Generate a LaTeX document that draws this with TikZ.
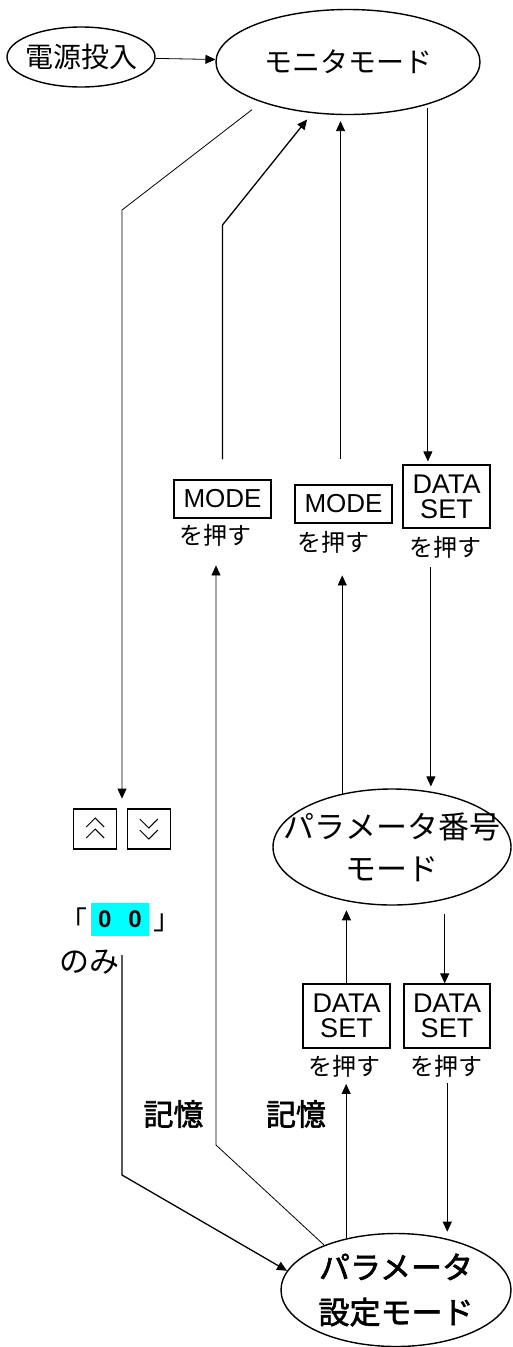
\documentclass[tikz,border=0pt]{standalone}
\usepackage{fontspec}
\setmainfont{Noto Sans CJK JP}
\newfontfamily\keyfont{Liberation Sans}
\newfontfamily\heavyfont[FakeBold=2]{Noto Sans CJK JP}
\usetikzlibrary{arrows.meta,shapes.geometric,calc}
\definecolor{hlcyan}{RGB}{0,255,255}

\tikzset{
  modeell/.style={ draw, ellipse, line width=1.4pt, inner xsep=-30pt, inner ysep=-15pt }
}
\tikzset{
  keybox/.style={ draw, line width=1.2pt, inner sep=0pt, align=center, font=\keyfont\fontsize{26}{25}\selectfont }
}
\tikzset{
  pushlbl/.style={ inner sep=0pt, text height=18pt, text depth=4pt, font=\fontsize{24}{24}\selectfont }
}
\tikzset{
  arrowkey/.style={ draw, line width=1.2pt, minimum width=43pt, minimum height=40pt, inner sep=0pt }
}

\begin{document}
\begin{tikzpicture}[x=1pt, y=-1pt, line width=0.8pt, >={Triangle[length=10pt, width=9pt]}]
      \useasboundingbox (0,0) rectangle (512,1347);

      % modes
      \node[modeell, minimum width=148, minimum height=60, font=\fontsize{28}{28}\selectfont] (pwr) at (81,57) {電源投入};
      \node[modeell, minimum width=264, minimum height=105, font=\fontsize{28}{28}\selectfont] (mon) at (348,62) {モニタモード};
      \node[modeell, minimum width=238, minimum height=116, align=center, font=\fontsize{31}{42}\selectfont] (pnum) at (392,847) {パラメータ番号\\モード};
      \node[modeell, minimum width=230, minimum height=113, align=center, font=\heavyfont\fontsize{31}{45}\selectfont] (pset) at (396,1290) {パラメータ\\設定モード};

      % keys
      \node[keybox, minimum width=97, minimum height=38] (mode1) at (222.5,499) {MODE};
      \node[pushlbl] (push1) at (215,537) {を押す};
      \node[keybox, minimum width=97, minimum height=38] (mode2) at (343.5,504) {MODE};
      \node[pushlbl] (push2) at (333.5,544) {を押す};
      \node[keybox, minimum width=87, minimum height=63, font=\keyfont\fontsize{27}{25}\selectfont] (ds1) at (446.5,496.5) {DATA\\SET};
      \node[pushlbl] (push3) at (445.5,549) {を押す};
      \node[keybox, minimum width=87, minimum height=64, font=\keyfont\fontsize{27}{25}\selectfont] (ds3) at (346.5,1016) {DATA\\SET};
      \node[pushlbl] (push4) at (344,1068.5) {を押す};
      \node[keybox, minimum width=86, minimum height=64, font=\keyfont\fontsize{27}{25}\selectfont] (ds4) at (447,1016) {DATA\\SET};
      \node[pushlbl] (push5) at (446,1068.5) {を押す};

      % up / down keys
      \node[minimum width=97, minimum height=40, inner sep=0pt] (keys) at (122,829) {};
      \node[arrowkey, anchor=west, path picture={
          \draw[line width=1pt] ([shift={(-9,-2)}]path picture bounding box.center) -- ([shift={(0,-11)}]path picture bounding box.center) -- ([shift={(9,-2)}]path picture bounding box.center);
          \draw[line width=1pt] ([shift={(-9,9)}]path picture bounding box.center) -- ([shift={(0,0)}]path picture bounding box.center) -- ([shift={(9,9)}]path picture bounding box.center);
        }] (upkey) at (keys.west) {};
      \node[arrowkey, anchor=east, path picture={
          \draw[line width=1pt] ([shift={(-9,-10)}]path picture bounding box.center) -- ([shift={(0,-1)}]path picture bounding box.center) -- ([shift={(9,-10)}]path picture bounding box.center);
          \draw[line width=1pt] ([shift={(-9,1)}]path picture bounding box.center) -- ([shift={(0,10)}]path picture bounding box.center) -- ([shift={(9,1)}]path picture bounding box.center);
        }] (downkey) at (keys.east) {};

      % "00" only
      \node[inner sep=0pt, font=\fontsize{28}{28}\selectfont] (lbr) at (73,920) {「};
      \node[fill=hlcyan, minimum width=58, minimum height=33, inner sep=0pt, font=\keyfont\bfseries\fontsize{24}{24}\selectfont] (zero) at (120,919.5) {0\hspace{17pt}0};
      \node[inner sep=0pt, font=\fontsize{28}{28}\selectfont] (rbr) at (167,923) {」};
      \node[inner sep=0pt, font=\fontsize{30}{30}\selectfont] (nomi) at (89,962) {のみ};

      % memory
      \node[inner sep=0pt, font=\heavyfont\fontsize{30}{30}\selectfont] (mem1) at (173.5,1114) {記憶};
      \node[inner sep=0pt, font=\heavyfont\fontsize{30}{30}\selectfont] (mem2) at (296,1114) {記憶};

      \coordinate (bendA) at (222.5,225);
      \coordinate (bendB) at (122,210);
      \coordinate (bendC) at (122,955);
      \coordinate (bendD) at (122,1175);
      \coordinate (bendE) at (216,1145);

      \draw[->] (pwr) -- (mon);
      \draw[->, shorten <=12pt, shorten >=10pt] (mon.205) -- (bendB) -- (keys.north);
      \draw[->, line width=1.3pt] (bendC) -- (bendD) -- (pset.170);
      \draw[->, shorten >=17pt] (pset.148) -- (bendE) -- (bendE |- push1.south);
      \draw[->, line width=1.3pt, shorten <=20pt, shorten >=8pt] (mode1.north) -- (bendA) -- (mon.235);
      \draw[<-, shorten <=6pt, shorten >=25pt] (mon.262) -- (mon.262 |- mode2.north);
      \draw[->, shorten <=4pt, shorten >=3pt] (mon.-28) -- (mon.-28 |- ds1.north);
      \draw[->, shorten <=7pt, shorten >=5pt] (push3.south -| pnum.55) -- (pnum.55);
      \draw[->, shorten >=20pt] (pnum.133) -- (pnum.133 |- push2.south);
      \draw[->, shorten >=4pt] (pset.134.5) -- (pset.134.5 |- push4.south);
      \draw[->, shorten >=9pt] (pnum.230 |- ds3.north) -- (pnum.230);
      \draw[->, shorten <=14pt] (pnum.-45) -- (pnum.-45 |- ds4.north);
      \draw[->, shorten <=3pt, shorten >=7pt] (push5.south -| pset.45) -- (pset.45);
\end{tikzpicture}
\end{document}
